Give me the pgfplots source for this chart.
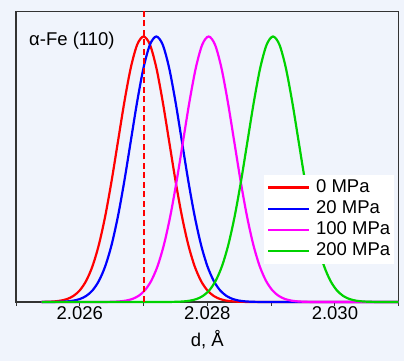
\documentclass[border=0pt]{standalone}
\usepackage{pgfplots}
\usepackage{pgfplotstable}
\pgfplotsset{compat=1.18}
\usepackage{fontspec}
\setmainfont{Liberation Sans}
\definecolor{bg}{RGB}{240,244,252}
\definecolor{mygreen}{RGB}{0,210,0}
\definecolor{mymag}{RGB}{255,0,255}
\newcommand\fs{\fontsize{18.5bp}{22bp}\selectfont}
\pgfplotstableread{
x r b
2.0254 0.0003 0
2.0255 0.0009 0.0001
2.0256 0.0022 0.0003
2.0257 0.0051 0.0009
2.0258 0.0111 0.0022
2.0259 0.0228 0.0051
2.0260 0.0439 0.0111
2.0261 0.0796 0.0228
2.0262 0.1353 0.0439
2.0263 0.2163 0.0796
2.0264 0.3247 0.1353
2.0265 0.4578 0.2163
2.0266 0.6065 0.3247
2.0267 0.7548 0.4578
2.0268 0.8825 0.6065
2.0269 0.9692 0.7548
2.0270 1.0000 0.8825
2.0271 0.9692 0.9692
2.0272 0.8825 1.0000
2.0273 0.7548 0.9692
2.0274 0.6065 0.8825
2.0275 0.4578 0.7548
2.0276 0.3247 0.6065
2.0277 0.2163 0.4578
2.0278 0.1353 0.3247
2.0279 0.0796 0.2163
2.0280 0.0439 0.1353
2.0281 0.0228 0.0796
2.0282 0.0111 0.0439
2.0283 0.0051 0.0228
2.0284 0.0022 0.0111
2.0285 0.0009 0.0051
2.0286 0.0003 0.0022
2.0287 0 0.0009
2.0288 0 0.0003
2.0289 0 0
2.0290 0 0
2.0300 0 0
2.0310 0 0
}\dataRB
\pgfplotstableread{
x m
2.0254 0
2.0260 0
2.02632 0
2.02642 0.0003
2.02652 0.0009
2.02662 0.0022
2.02672 0.0051
2.02682 0.0111
2.02692 0.0228
2.02702 0.0439
2.02712 0.0796
2.02722 0.1353
2.02732 0.2163
2.02742 0.3247
2.02752 0.4578
2.02762 0.6065
2.02772 0.7548
2.02782 0.8825
2.02792 0.9692
2.02802 1.0000
2.02812 0.9692
2.02822 0.8825
2.02832 0.7548
2.02842 0.6065
2.02852 0.4578
2.02862 0.3247
2.02872 0.2163
2.02882 0.1353
2.02892 0.0796
2.02902 0.0439
2.02912 0.0228
2.02922 0.0111
2.02932 0.0051
2.02942 0.0022
2.02952 0.0009
2.02962 0.0003
2.02972 0
2.0300 0
2.0310 0
}\dataM
\pgfplotstableread{
x g
2.0254 0
2.0260 0
2.0265 0
2.0270 0
2.02733 0
2.02743 0.0003
2.02753 0.0009
2.02763 0.0022
2.02773 0.0051
2.02783 0.0111
2.02793 0.0228
2.02803 0.0439
2.02813 0.0796
2.02823 0.1353
2.02833 0.2163
2.02843 0.3247
2.02853 0.4578
2.02863 0.6065
2.02873 0.7548
2.02883 0.8825
2.02893 0.9692
2.02903 1.0000
2.02913 0.9692
2.02923 0.8825
2.02933 0.7548
2.02943 0.6065
2.02953 0.4578
2.02963 0.3247
2.02973 0.2163
2.02983 0.1353
2.02993 0.0796
2.03003 0.0439
2.03013 0.0228
2.03023 0.0111
2.03033 0.0051
2.03043 0.0022
2.03053 0.0009
2.03063 0.0003
2.03073 0
2.0310 0
}\dataG
\begin{document}
\begin{tikzpicture}
\path[use as bounding box, fill=bg] (-16bp,-59bp) rectangle (388bp,302bp);
\begin{axis}[
  at={(0,0)}, anchor=south west, scale only axis,
  width=382.7bp, height=290.5bp,
  xmin=2.025, xmax=2.031, ymin=0, ymax=1.094,
  ytick=\empty,
  xtick={2.025,2.026,2.027,2.028,2.029,2.030,2.031},
  xticklabels={,2.026,,2.028,,2.030,},
  xtick pos=lower, tick align=outside,
  major tick length=4bp,
  axis line style={black!80, line width=1.2bp},
  every tick/.style={black!80, line width=1bp},
  xticklabel style={font=\fs, inner sep=0pt, anchor=north},
  xlabel={d, Å},
  xlabel style={font=\fs, at={(axis description cs:0.5,0)}, anchor=base, yshift=-44.7bp, inner sep=0pt},
  clip=false,
  legend style={at={(rel axis cs:1,0)}, anchor=south east, xshift=-4.7bp, yshift=38bp,
    draw=none, fill=white, inner sep=2.6bp, row sep=1.5bp, column sep=5bp, font=\fs,
    nodes={inner sep=1bp, text height=13.5bp, text depth=4.3bp}},
  legend cell align=left,
  legend image code/.code={\draw[#1] (0bp,0bp) -- (41bp,0bp);},
  every axis plot/.append style={line width=2.2bp, smooth, no markers},
]
\addplot[red] table[x=x,y=r] {\dataRB};
\addlegendentry{0 MPa}
\addplot[blue] table[x=x,y=b] {\dataRB};
\addlegendentry{20 MPa}
\addplot[mymag] table[x=x,y=m] {\dataM};
\addlegendentry{100 MPa}
\addplot[mygreen] table[x=x,y=g] {\dataG};
\addlegendentry{200 MPa}
\addplot[red, line width=2bp, dash pattern=on 6bp off 3.5bp, forget plot, sharp plot] coordinates {(2.027,0) (2.027,1.094)};
\node[anchor=base west, font=\fs, inner sep=0pt, xshift=13bp, yshift=-34.5bp] at (rel axis cs:0,1) {α-Fe (110)};
\end{axis}
\end{tikzpicture}
\end{document}
